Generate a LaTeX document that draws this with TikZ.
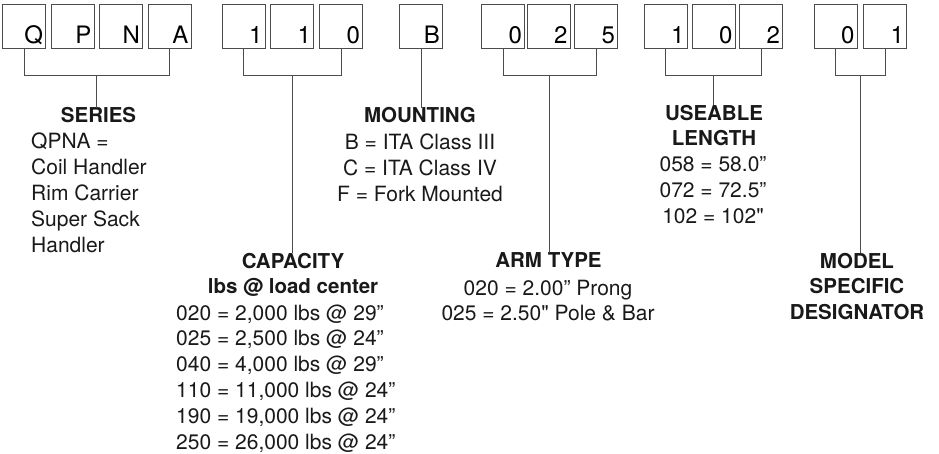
\documentclass[tikz,border=0pt]{standalone}
\usepackage{fontspec}
\setmainfont{TeX Gyre Heros}[Ligatures=TeXOff]
\usetikzlibrary{calc}
\begin{document}
\begin{tikzpicture}[x=1pt, y=-1pt,
    digit/.style={draw=black!70, line width=0.9pt, inner xsep=2.5pt, inner ysep=0pt,
        text width=38pt, align=right, text height=40pt, text depth=4pt,
        font=\fontsize{24}{28}\selectfont},
    head/.style={inner sep=0pt, anchor=base, align=center, text=black!90,
        font=\fontsize{20.5}{25.8}\selectfont\bfseries},
    body/.style={inner sep=0pt, anchor=base, align=center, text=black!90,
        font=\fontsize{21}{25.8}\selectfont},
    link/.style={draw=black!70, line width=0.9pt}]
    \useasboundingbox (0,0) rectangle (939,454);

    \foreach \n/\x/\t in {s1/24/Q, s2/72.5/P, s3/121/N, s4/169.5/A,
                         c1/243.5/1, c2/292/1, c3/341/0, m1/421/B,
                         a1/503/0, a2/548.5/2, a3/596/5,
                         l1/665.5/1, l2/713.5/0, l3/761/2,
                         d1/835.5/0, d2/885/1}
        \node[digit] (\n) at (\x,26) {\t};

    \node[head] (series) at (98.5,123) {SERIES};
    \node[body, anchor=base west, align=left] (seriesbody) at (31,252.2)
        {QPNA =\\Coil Handler\\Rim Carrier\\Super Sack\\Handler};

    \node[head] (capacity) at (293,294) {CAPACITY\\lbs @ load center};
    \node[body, anchor=base west, align=left] (capbody) at (176,449)
        {020 = 2,000 lbs @ 29”\\025 = 2,500 lbs @ 24”\\040 = 4,000 lbs @ 29”\\
         110 = 11,000 lbs @ 24”\\190 = 19,000 lbs @ 24”\\250 = 26,000 lbs @ 24”};

    \node[head] (mounting) at (420,123) {MOUNTING};
    \node[body] (mountbody) at (420,201.6)
        {B = ITA Class III\\C = ITA Class IV\\F = Fork Mounted};

    \node[head] (arm) at (548.5,268) {ARM TYPE};
    \node[body] (armbody) at (548,320.8)
        {020 = 2.00” Prong\\025 = 2.50" Pole \& Bar};

    \node[head] (length) at (714,146) {USEABLE\\LENGTH};
    \node[body] (lenbody) at (713,223.6)
        {058 = 58.0”\\072 = 72.5”\\102 = 102"};

    \node[head] (model) at (857,319.6) {MODEL\\SPECIFIC\\DESIGNATOR};

    \coordinate (sbar) at ($(s1.south)!0.5!(s4.south)+(0,27)$);
    \coordinate (cbar) at ($(c1.south)!0.5!(c3.south)+(0,27)$);
    \coordinate (abar) at ($(a1.south)!0.5!(a3.south)+(0,27)$);
    \coordinate (lbar) at ($(l1.south)!0.5!(l3.south)+(0,27)$);
    \coordinate (dbar) at ($(d1.south)!0.5!(d2.south)+(0,27)$);

    \draw[link] (s1.south) |- (sbar) -| (s4.south);
    \draw[link] (c1.south) |- (cbar) -| (c3.south);
    \draw[link] (a1.south) |- (abar) -| (a3.south);
    \draw[link] (l1.south) |- (lbar) -| (l3.south);
    \draw[link] (d1.south) |- (dbar) -| (d2.south);

    \draw[link] (sbar) -- (sbar |- series.north);
    \draw[link] (cbar) -- (cbar |- capacity.north);
    \draw[link] (m1.south) -- (m1.south |- mounting.north);
    \draw[link] (abar) -- (abar |- arm.north);
    \draw[link] (lbar) -- (lbar |- length.north);
    \draw[link] (dbar) -- (dbar |- model.north);
\end{tikzpicture}
\end{document}
